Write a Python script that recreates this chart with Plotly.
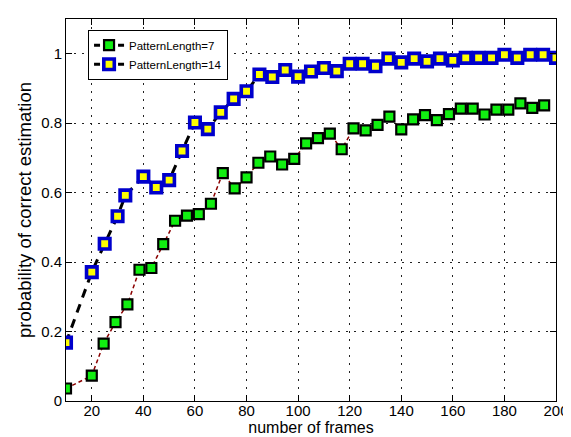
import plotly.graph_objects as go

# Data
x_len7 = [10, 20, 24.6, 29.2, 33.8, 38.5, 43.1, 47.7, 52.3, 56.9, 61.5, 66.2, 70.8, 75.4,
          80, 84.6, 89.2, 93.8, 98.5, 103.1, 107.7, 112.3, 116.9, 121.5, 126.2, 130.8,
          135.4, 140, 144.6, 149.2, 153.8, 158.5, 163.1, 167.7, 172.3, 176.9, 181.5,
          186.2, 190.8, 195.4]
y_len7 = [0.036, 0.073, 0.165, 0.227, 0.278, 0.378, 0.383, 0.452, 0.519, 0.534, 0.538,
          0.568, 0.656, 0.612, 0.644, 0.686, 0.704, 0.681, 0.697, 0.742, 0.757, 0.770,
          0.725, 0.785, 0.779, 0.795, 0.819, 0.782, 0.811, 0.823, 0.809, 0.826, 0.842,
          0.842, 0.825, 0.839, 0.839, 0.857, 0.844, 0.851]

x_len14 = [10, 20, 25, 30, 33, 40, 45, 50, 55, 60, 65, 70, 75, 80, 85, 90, 95, 100, 105,
           110, 115, 120, 125, 130, 135, 140, 145, 150, 155, 160, 165, 170, 175, 180,
           185, 190, 195, 200]
y_len14 = [0.168, 0.371, 0.453, 0.532, 0.592, 0.646, 0.615, 0.636, 0.720, 0.802, 0.783,
           0.831, 0.870, 0.892, 0.940, 0.933, 0.953, 0.934, 0.949, 0.959, 0.950, 0.971,
           0.971, 0.964, 0.986, 0.975, 0.986, 0.978, 0.986, 0.981, 0.988, 0.988, 0.988,
           0.997, 0.988, 0.997, 0.997, 0.988]

names = ["PatternLength=7", "PatternLength=14"]
x_ticks = [20, 40, 60, 80, 100, 120, 140, 160, 180, 200]
y_ticks = [0, 0.2, 0.4, 0.6, 0.8, 1.0]
y_tick_text = ["0", "0.2", "0.4", "0.6", "0.8", "1"]

FONT = "Liberation Sans, Arial, sans-serif"

green_marker = dict(symbol="square", size=10, color="#11ee11",
                    line=dict(color="black", width=2.2))
blue_marker = dict(symbol="square", size=10.5, color="#ffff00",
                   line=dict(color="#0000cc", width=3.6))

fig = go.Figure()
fig.add_trace(go.Scatter(
    x=x_len7, y=y_len7, mode="lines+markers", showlegend=False,
    line=dict(color="#8b0000", width=1.5, dash="4px,3px"),
    marker=green_marker))
fig.add_trace(go.Scatter(
    x=x_len14, y=y_len14, mode="lines+markers", showlegend=False,
    line=dict(color="black", width=3, dash="9px,7px"),
    marker=blue_marker))
# legend entries (MATLAB-style black dashed sample)
fig.add_trace(go.Scatter(
    x=[None], y=[None], mode="lines+markers", name=names[0],
    line=dict(color="black", width=3, dash="6px,6px"), marker=green_marker))
fig.add_trace(go.Scatter(
    x=[None], y=[None], mode="lines+markers", name=names[1],
    line=dict(color="black", width=3, dash="6px,6px"), marker=blue_marker))

axis_common = dict(
    showline=True, linecolor="black", linewidth=1, mirror="allticks",
    ticks="inside", ticklen=6, tickcolor="black", tickwidth=1,
    showgrid=True, gridcolor="#222222", gridwidth=1, griddash="2px,6px",
    zeroline=False, tickfont=dict(family=FONT, size=15, color="black"),
)

fig.update_layout(
    width=571, height=437,
    margin=dict(l=58, r=14, t=10, b=44),
    paper_bgcolor="white", plot_bgcolor="white",
    font=dict(family=FONT, color="black"),
    xaxis=dict(range=[10, 200], tickvals=x_ticks, ticklabelstandoff=-4,
               title=dict(text="number of frames", font=dict(family=FONT, size=16),
                          standoff=0),
               **axis_common),
    yaxis=dict(range=[0, 1.1], tickvals=y_ticks, ticktext=y_tick_text,
               title=dict(text="probability of correct estimation",
                          font=dict(family=FONT, size=18.5), standoff=4),
               **axis_common),
    legend=dict(x=0.045, y=0.972, xanchor="left", yanchor="top",
                bgcolor="white", bordercolor="black", borderwidth=1,
                font=dict(family=FONT, size=11.5, color="black"),
                tracegroupgap=0, itemwidth=30),
)

fig.write_html("out.html")
